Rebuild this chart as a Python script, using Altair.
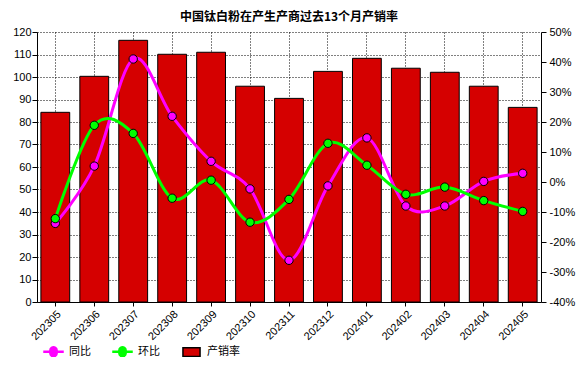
import altair as alt
import pandas as pd

months = ["202305", "202306", "202307", "202308", "202309", "202310", "202311",
          "202312", "202401", "202402", "202403", "202404", "202405"]
rate = [84.3, 100.3, 116.3, 110.1, 111.0, 95.9, 90.5, 102.5, 108.3, 103.9, 102.1, 95.9, 86.5]
yoy = [-13.8, 5.3, 41.0, 21.9, 6.9, -2.3, -26.1, -1.3, 14.7, -8.0, -8.0, 0.2, 2.9]
mom = [-12.2, 18.9, 16.2, -5.4, 0.6, -13.4, -5.8, 12.9, 5.6, -4.1, -1.7, -6.2, -9.8]

series_names = ["同比", "环比", "产销率"]
series_colors = ["#ff00ff", "#00ff00", "#d50000"]
legend_strokes = ["#ff00ff", "#00ff00", "#000000"]
title_text = "中国钛白粉在产生产商过去13个月产销率"

line_sym = ("M-1,-0.06 L-0.37,-0.06 A0.38,0.38 0 1,1 0.37,-0.06 L1,-0.06 L1,0.06 "
            "L0.37,0.06 A0.38,0.38 0 1,1 -0.37,0.06 L-1,0.06 Z")
rect_sym = "M-0.9,-0.45 L0.9,-0.45 L0.9,0.45 L-0.9,0.45 Z"
legend_shapes = [line_sym, line_sym, rect_sym]

bar_df = pd.DataFrame({"month": months, "rate": rate})
yoy_df = pd.DataFrame({"month": months, "value": yoy})
mom_df = pd.DataFrame({"month": months, "value": mom})
legend_df = pd.DataFrame({"series": series_names})

FONT = "Liberation Sans"

x_enc = alt.X(
    "month:N", sort=months, title=None,
    scale=alt.Scale(paddingInner=0.26, paddingOuter=0.1),
    axis=alt.Axis(labelAngle=-45, grid=True, bandPosition=0.5, tickSize=4,
                  labelPadding=2, labelFontSize=11),
)
x_plain = alt.X("month:N", sort=months)

bars = alt.Chart(bar_df).mark_bar(stroke="black", strokeWidth=1).encode(
    x=x_enc,
    y=alt.Y("rate:Q", title=None,
            scale=alt.Scale(domain=[0, 120], nice=False),
            axis=alt.Axis(orient="left", values=list(range(0, 121, 10)), grid=True,
                          tickSize=5, labelPadding=1)),
    color=alt.value(series_colors[2]),
)

y_right = alt.Scale(domain=[-40, 50], nice=False)
right_axis = alt.Axis(orient="right", values=list(range(-40, 51, 10)), grid=False,
                      tickSize=5, labelPadding=3, labelExpr="datum.value + '%'")


def line_layer(df, color, axis):
    return alt.Chart(df).mark_line(interpolate="cardinal", strokeWidth=3).encode(
        x=x_plain,
        y=alt.Y("value:Q", title=None, scale=y_right, axis=axis),
        color=alt.value(color),
    )


def point_layer(df, color):
    return alt.Chart(df).mark_point(filled=True, size=70, stroke="black",
                                    strokeWidth=1, opacity=1).encode(
        x=x_plain,
        y=alt.Y("value:Q", scale=y_right, axis=None),
        color=alt.value(color),
    )


leg = alt.Legend(orient="none", legendX=6, legendY=309, direction="horizontal",
                 title=None, symbolSize=361, labelFontSize=11,
                 columnPadding=19, labelOffset=5, padding=0)
legend_layer = alt.Chart(legend_df).transform_filter("false").mark_point(
    filled=True, strokeWidth=1, opacity=1).encode(
    fill=alt.Fill("series:N", scale=alt.Scale(domain=series_names, range=series_colors),
                  legend=leg),
    stroke=alt.Stroke("series:N", scale=alt.Scale(domain=series_names, range=legend_strokes),
                      legend=leg),
    shape=alt.Shape("series:N", scale=alt.Scale(domain=series_names, range=legend_shapes),
                    legend=leg),
)

chart = alt.layer(
    bars,
    line_layer(yoy_df, series_colors[0], right_axis),
    line_layer(mom_df, series_colors[1], None),
    point_layer(yoy_df, series_colors[0]),
    point_layer(mom_df, series_colors[1]),
    legend_layer,
).resolve_scale(
    y="independent"
).properties(
    width=504, height=270,
    autosize=alt.AutoSizeParams(type="none"),
    padding={"left": 29, "top": 24, "right": 38, "bottom": 55},
    title=alt.Title(title_text, fontSize=12, fontWeight="bold",
                    font="Noto Sans CJK SC", anchor="middle", offset=2, color="black"),
).configure_view(stroke=None).configure_axis(
    domainColor="black", tickColor="black", labelColor="black",
    labelFont=FONT, labelFontSize=11,
    gridColor="black", gridDash=[1, 2], gridOpacity=1, gridWidth=1,
).configure_legend(labelFont="Noto Sans CJK SC", labelColor="black")

chart.save("out.html", embed_options={"renderer": "svg", "actions": False})
